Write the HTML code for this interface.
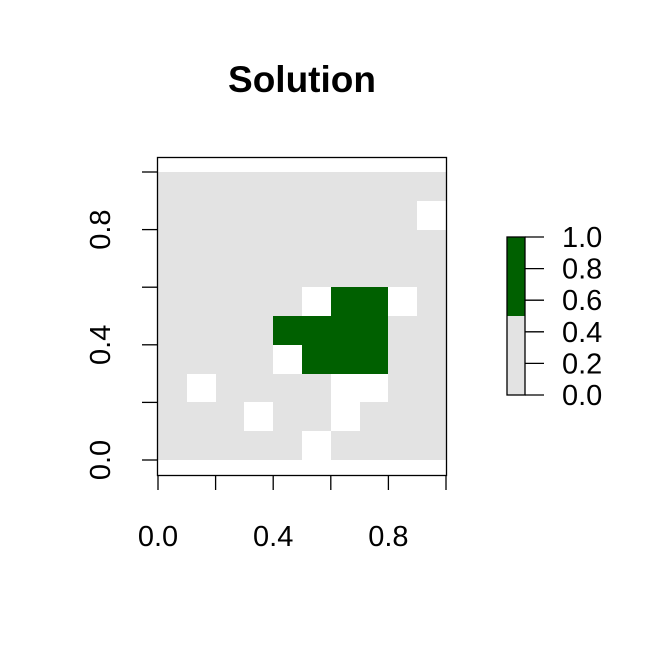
<!DOCTYPE html>
<html><head><meta charset="utf-8"><style>
body{margin:0;background:#fff}
svg{display:block;font-family:"Liberation Sans",Arial,sans-serif}
</style></head><body>
<svg id="c" width="672" height="672">
<text x="302" y="92" text-anchor="middle" font-size="37" font-weight="bold">Solution</text>
<g id="cells" shape-rendering="crispEdges"></g>
<rect x="157.5" y="157.5" width="289" height="318" fill="none" stroke="#000" stroke-width="1.3"/>
<g id="axes"></g>
<g id="legend"></g>
</svg>
<script>
// rows from top (y=1 to 0), columns left to right; 0=absent, 1=selected, null=NA
const row0=[0,0,0,0,0,0,0,0,0,0];
const row1=[0,0,0,0,0,0,0,0,0,null];
const row2=[0,0,0,0,0,0,0,0,0,0];
const row3=[0,0,0,0,0,0,0,0,0,0];
const row4=[0,0,0,0,0,null,1,1,null,0];
const row5=[0,0,0,0,1,1,1,1,0,0];
const row6=[0,0,0,0,null,1,1,1,0,0];
const row7=[0,null,0,0,0,0,null,null,0,0];
const row8=[0,0,0,null,0,0,null,0,0,0];
const row9=[0,0,0,0,0,null,0,0,0,0];
const grid=[row0,row1,row2,row3,row4,row5,row6,row7,row8,row9];
const xTicks=[0,0.2,0.4,0.6,0.8,1.0];
const xLabels=["0.0","0.4","0.8"];
const yTicks=[0,0.2,0.4,0.6,0.8,1.0];
const yLabels=["0.0","0.4","0.8"];
const legendTicks=["0.0","0.2","0.4","0.6","0.8","1.0"];
const breakVal=0.5;

const NS="http://www.w3.org/2000/svg";
const sx=v=>158+v*288, sy=v=>460-v*288;
const ly=v=>395-v*158;
function mk(t,a,p){const e=document.createElementNS(NS,t);for(const k in a)e.setAttribute(k,a[k]);p.appendChild(e);return e;}
const cells=document.getElementById('cells');
const n=grid.length;
grid.forEach((row,r)=>row.forEach((v,c)=>{
  if(v===null)return;
  const x0=Math.round(sx(c/n)),x1=Math.round(sx((c+1)/n)),y0=Math.round(sy(1-r/n)),y1=Math.round(sy(1-(r+1)/n));
  const e=mk('rect',{x:x0,y:y0,width:x1-x0,height:y1-y0,fill:v>=breakVal?'#006000':'#e3e3e3'},cells);
  
  
}));
const ax=document.getElementById('axes');
xTicks.forEach(t=>{const e=mk('line',{x1:sx(t),x2:sx(t),y1:475,y2:490,stroke:'#000','stroke-width':1.3},ax);
  });
xLabels.forEach(l=>{const e=mk('text',{x:sx(+l),y:546,'text-anchor':'middle','font-size':29},ax);e.textContent=l;
  });
yTicks.forEach(t=>{const e=mk('line',{x1:142,x2:157,y1:sy(t),y2:sy(t),stroke:'#000','stroke-width':1.3},ax);
  });
yLabels.forEach(l=>{const y=sy(+l);const e=mk('text',{x:0,y:0,'text-anchor':'middle','font-size':29,transform:`translate(110,${y}) rotate(-90)`},ax);e.textContent=l;
  });
const lg=document.getElementById('legend');
let e=mk('rect',{x:507,y:ly(1),width:18,height:ly(breakVal)-ly(1),fill:'#006000'},lg);

e=mk('rect',{x:507,y:ly(breakVal),width:18,height:ly(0)-ly(breakVal),fill:'#e3e3e3'},lg);

mk('rect',{x:507,y:ly(1),width:18,height:ly(0)-ly(1),fill:'none',stroke:'#000','stroke-width':1.3},lg);
legendTicks.forEach(l=>{const y=ly(+l);
  const t=mk('line',{x1:525,x2:544,y1:y,y2:y,stroke:'#000','stroke-width':1.3},lg);
  
  const tx=mk('text',{x:562,y:y+10,'font-size':29},lg);tx.textContent=l;
  });
</script>
</body></html>
